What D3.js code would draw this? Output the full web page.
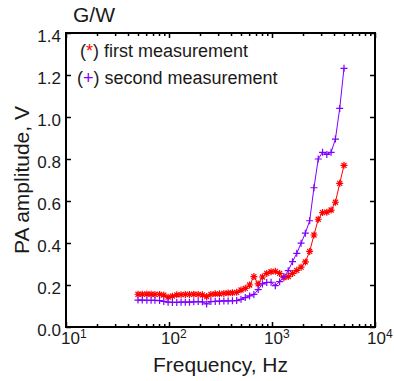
<!DOCTYPE html>
<html>
<head>
<meta charset="utf-8">
<script src="https://cdn.jsdelivr.net/npm/d3@7"></script>
<style>
  html, body { margin: 0; padding: 0; background: #fff; }
  svg { display: block; }
  text { font-family: "Liberation Sans", Arial, sans-serif; fill: #1a1a1a; }
</style>
</head>
<body>
<svg id="chart" width="394" height="381"></svg>
<script>
// ---- data ----
const freqs = [50, 55, 61, 67, 73, 81, 89, 98, 108, 119, 131, 144, 158, 174, 192, 211, 232, 255, 281, 309, 341, 375, 413, 454,
  500, 550, 606, 667, 734, 808, 889, 979, 1077, 1186, 1305, 1437, 1581, 1740, 1916, 2108, 2321, 2555, 2812, 3095, 3406, 3749, 4127, 4543, 5000];
const firstMeasurement = [0.156,0.156,0.157,0.156,0.155,0.155,0.152,0.142,0.147,0.153,0.154,0.155,0.155,0.156,0.155,0.153,0.145,0.155,0.158,0.158,0.160,0.162,0.163,
  0.165,0.176,0.184,0.200,0.240,0.205,0.238,0.255,0.263,0.265,0.255,0.235,0.240,0.255,0.270,0.285,0.310,0.360,0.438,0.513,0.545,0.547,0.557,0.594,0.684,0.770];
const secondMeasurement = [0.128,0.128,0.127,0.127,0.127,0.126,0.122,0.118,0.117,0.117,0.118,0.118,0.118,0.120,0.121,0.120,0.110,0.121,0.122,0.123,0.124,0.124,0.125,
  0.126,0.132,0.140,0.148,0.155,0.178,0.205,0.212,0.213,0.197,0.216,0.240,0.268,0.311,0.351,0.399,0.447,0.506,0.663,0.800,0.832,0.822,0.832,0.895,1.041,1.232];
const xMajorTicks = [10, 100, 1000, 10000];
const xTickExponents = ["1", "2", "3", "4"];
const yTicks = [0, 0.2, 0.4, 0.6, 0.8, 1.0, 1.2, 1.4];
const seriesNames = ["first measurement", "second measurement"];
const seriesColors = ["#ff0000", "#7f00ff"];
const seriesSymbols = ["*", "+"];
const titleText = "G/W";
const xLabel = "Frequency, Hz";
const yLabel = "PA amplitude, V";

// ---- layout ----
const L = 66, R = 375, T = 33, B = 327;
const svg = d3.select("#chart");
const x = d3.scaleLog().domain([10, 10000]).range([L, R]);
const y = d3.scaleLinear().domain([0, 1.4]).range([B, T]);

// minor ticks for log axis
const xAllTicks = [];
for (let d = 10; d < 10000; d *= 10) for (let k = 1; k <= 9; k++) xAllTicks.push(d * k);
xAllTicks.push(10000);
const isMajor = v => xMajorTicks.some(m => Math.abs(m - v) < 1e-6);

const g = svg.append("g");

// bottom axis ticks (inside)
const xb = g.append("g").attr("transform", `translate(0,${B})`)
  .call(d3.axisBottom(x).tickValues(xAllTicks).tickFormat("").tickSizeOuter(0));
xb.select(".domain").remove();
xb.selectAll(".tick line").attr("y2", d => isMajor(d) ? -5 : -3).attr("stroke", "#000").attr("stroke-width", 1.5);
// top axis ticks (inside)
const xt = g.append("g").attr("transform", `translate(0,${T})`)
  .call(d3.axisTop(x).tickValues(xAllTicks).tickFormat("").tickSizeOuter(0));
xt.select(".domain").remove();
xt.selectAll(".tick line").attr("y2", d => isMajor(d) ? 5 : 3).attr("stroke", "#000").attr("stroke-width", 1.5);
// left / right y ticks
const yl = g.append("g").attr("transform", `translate(${L},0)`)
  .call(d3.axisLeft(y).tickValues(yTicks).tickFormat("").tickSizeOuter(0));
yl.select(".domain").remove();
yl.selectAll(".tick line").attr("x2", 5).attr("stroke", "#000").attr("stroke-width", 1.5);
const yr = g.append("g").attr("transform", `translate(${R},0)`)
  .call(d3.axisRight(y).tickValues(yTicks).tickFormat("").tickSizeOuter(0));
yr.select(".domain").remove();
yr.selectAll(".tick line").attr("x2", -5).attr("stroke", "#000").attr("stroke-width", 1.5);

// y tick labels
g.append("g").selectAll("text").data(yTicks).join("text")
  .attr("x", L - 5).attr("y", d => y(d) + 9)
  .attr("text-anchor", "end").attr("font-size", 17)
  .text(d => d.toFixed(1));

// x tick labels 10^n
const xl = g.append("g").selectAll("text").data(xMajorTicks).join("text")
  .attr("x", (d, i) => i === 0 ? x(d) - 5 : x(d) - 8).attr("y", B + 17).attr("font-size", 17);
xl.append("tspan").text("10");
xl.append("tspan").attr("font-size", 12).attr("dy", -6).text((d, i) => xTickExponents[i]);

// lines and markers
const series = [firstMeasurement, secondMeasurement];
const line = d3.line().x((d, i) => x(freqs[i])).y(d => y(d));
const markerPaths = {
  "*": "M-3.5,0H3.5M0,-3.5V3.5M-2.5,-2.5L2.5,2.5M-2.5,2.5L2.5,-2.5",
  "+": "M-3.5,0H3.5M0,-3.5V3.5"
};
series.forEach((vals, si) => {
  const sg = g.append("g");
  sg.append("path").datum(vals).attr("d", line)
    .attr("fill", "none").attr("stroke", seriesColors[si]).attr("stroke-width", 1);
  sg.selectAll("path.m").data(vals).join("path").attr("class", "m")
    .attr("transform", (d, i) => `translate(${x(freqs[i])},${y(d)})`)
    .attr("d", markerPaths[seriesSymbols[si]])
    .attr("fill", "none").attr("stroke", seriesColors[si]).attr("stroke-width", 1.2);
});

// box
g.append("rect").attr("x", L).attr("y", T).attr("width", R - L).attr("height", B - T)
  .attr("fill", "none").attr("stroke", "#000").attr("stroke-width", 2);

// legend
const legY = [57, 84];
const legX = [80, 77];
seriesNames.forEach((name, i) => {
  const t = g.append("text").attr("x", legX[i]).attr("y", legY[i]).attr("font-size", 18);
  t.append("tspan").text("(");
  t.append("tspan").attr("fill", seriesColors[i]).style("fill", seriesColors[i]).text(seriesSymbols[i]);
  t.append("tspan").text(") " + name);
});

// title and axis labels
svg.append("text").attr("x", 73).attr("y", 22).attr("font-size", 21).text(titleText);
svg.append("text").attr("x", (L + R) / 2).attr("y", 372).attr("text-anchor", "middle")
  .attr("font-size", 21).text(xLabel);
svg.append("text").attr("transform", `translate(29,${(T + B) / 2}) rotate(-90)`)
  .attr("text-anchor", "middle").attr("font-size", 21).text(yLabel);
</script>
</body>
</html>
